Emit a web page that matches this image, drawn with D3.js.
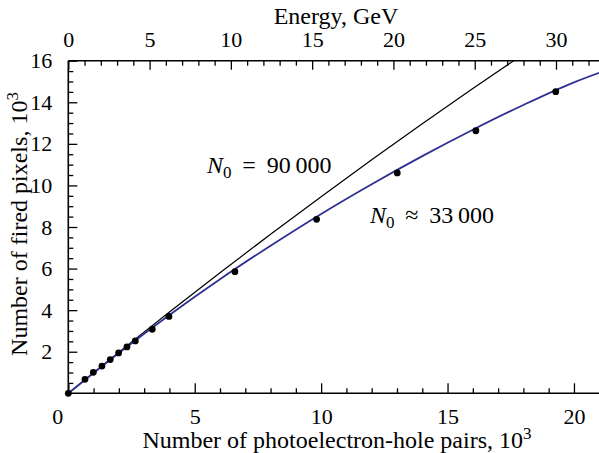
<!DOCTYPE html>
<html><head><meta charset="utf-8">
<script src="https://cdn.jsdelivr.net/npm/d3@7"></script>
<style>
body{margin:0;background:#fff;}
svg{display:block;}
svg text, svg tspan{font-family:"Liberation Serif" !important;}
</style></head>
<body><svg id="c" width="599" height="453"></svg>
<script>
// measured data points (10^3 photoelectron-hole pairs vs 10^3 fired pixels)
const pairs = [0, 0.66, 0.99, 1.33, 1.66, 1.99, 2.32, 2.65, 3.32, 3.98, 6.59, 9.82, 13.01, 16.12, 19.28];
const fired = [0, 0.67, 1.01, 1.31, 1.62, 1.94, 2.23, 2.52, 3.08, 3.70, 5.85, 8.37, 10.60, 12.63, 14.51];
// curves
const curveX = [0, 2, 4, 6, 8, 10, 12, 14, 16, 18, 20, 21];
const curve90 = [0, 1.98, 3.91, 5.80, 7.65, 9.46, 11.23, 12.97, 14.66, 16.31, 17.9, 18.7];
const curve33 = [0, 1.94, 3.77, 5.49, 7.10, 8.63, 10.06, 11.41, 12.68, 13.87, 14.96, 15.42];
const xMajor = [0, 5, 10, 15, 20];
const yMajor = [2, 4, 6, 8, 10, 12, 14, 16];
const eMajor = [0, 5, 10, 15, 20, 25, 30];

const FONT = "Liberation Serif";
const L = 68.3, R = 599, T = 60.7, B = 393.3;
const svg = d3.select("#c").attr("font-family", FONT);
const x = d3.scaleLinear().domain([0, 20.99]).range([L, R]);
const y = d3.scaleLinear().domain([0, 16]).range([B, T]);
const xe = d3.scaleLinear().domain([0, 32.645]).range([L, R]);

svg.append("defs").append("clipPath").attr("id","clip")
  .append("rect").attr("x",L).attr("y",T).attr("width",R-L).attr("height",B-T);

function styleAxis(g){
  g.attr("font-family", FONT).attr("font-size", 22);
  g.selectAll("path.domain").remove();
  g.selectAll("line").attr("stroke","#000").attr("stroke-width",1.3);
  g.selectAll("text").attr("fill","#000").attr("font-family", FONT).attr("font-size", 22);
}
// bottom axis
const xMinor = d3.range(0, 21, 1).filter(v => !xMajor.includes(v));
svg.append("g").attr("transform",`translate(0,${B})`)
  .call(d3.axisBottom(x).tickValues(xMinor).tickSize(-5).tickFormat(""))
  .call(styleAxis);
const gb = svg.append("g").attr("transform",`translate(0,${B})`)
  .call(d3.axisBottom(x).tickValues(xMajor).tickSize(-10).tickPadding(15).tickFormat(d3.format("d")))
  .call(styleAxis);
gb.selectAll(".tick").filter(d => d === 0).select("text").attr("x", -11);
// top axis (energy)
const eMinor = d3.range(0, 33, 1).filter(v => !eMajor.includes(v));
svg.append("g").attr("transform",`translate(0,${T})`)
  .call(d3.axisTop(xe).tickValues(eMinor).tickSize(-5).tickFormat(""))
  .call(styleAxis);
svg.append("g").attr("transform",`translate(0,${T})`)
  .call(d3.axisTop(xe).tickValues(eMajor).tickSize(-9).tickPadding(14).tickFormat(d3.format("d")))
  .call(styleAxis);
// left axis
const yMinor = d3.range(0.5, 16, 0.5).filter(v => !yMajor.includes(v));
svg.append("g").attr("transform",`translate(${L},0)`)
  .call(d3.axisLeft(y).tickValues(yMinor).tickSize(-5).tickFormat(""))
  .call(styleAxis);
svg.append("g").attr("transform",`translate(${L},0)`)
  .call(d3.axisLeft(y).tickValues(yMajor).tickSize(-9).tickPadding(16).tickFormat(d3.format("d")))
  .call(styleAxis);
// spines
svg.append("line").attr("x1",L).attr("x2",R).attr("y1",B).attr("y2",B).attr("stroke","#000").attr("stroke-width",1.6);
svg.append("line").attr("x1",L).attr("x2",R).attr("y1",T).attr("y2",T).attr("stroke","#000").attr("stroke-width",1.6);
svg.append("line").attr("x1",L).attr("x2",L).attr("y1",T).attr("y2",B).attr("stroke","#000").attr("stroke-width",1.6);

// curves
const line = d3.line().x(d => x(d[0])).y(d => y(d[1])).curve(d3.curveMonotoneX);
const plot = svg.append("g").attr("clip-path","url(#clip)");
plot.append("path").datum(curveX.map((v,i)=>[v,curve90[i]]))
  .attr("d",line).attr("fill","none").attr("stroke","#000").attr("stroke-width",1.2);
plot.append("path").datum(curveX.map((v,i)=>[v,curve33[i]]))
  .attr("d",line).attr("fill","none").attr("stroke","#2e3192").attr("stroke-width",1.8);
// points
svg.append("g").selectAll("circle").data(pairs.map((v,i)=>[v,fired[i]])).join("circle")
  .attr("cx",d=>x(d[0])).attr("cy",d=>y(d[1])).attr("r",3.4).attr("fill","#000");

function txt(sel){ return sel.attr("font-family", FONT).attr("fill","#000"); }
// titles
txt(svg.append("text")).attr("x",336).attr("y",24).attr("text-anchor","middle").attr("font-size",24).text("Energy, GeV");
const bt = txt(svg.append("text")).attr("x",337).attr("y",448).attr("text-anchor","middle").attr("font-size",24);
bt.append("tspan").text("Number of photoelectron-hole pairs, 10");
bt.append("tspan").attr("dy",-9).attr("font-size",17).text("3");
const lt = txt(svg.append("text")).attr("transform","translate(27,224) rotate(-90)").attr("text-anchor","middle").attr("font-size",24);
lt.append("tspan").text("Number of fired pixels, 10");
lt.append("tspan").attr("dy",-9).attr("font-size",17).text("3");

// annotations
function ann(xp, yp, rest){
  const t = txt(svg.append("text")).attr("x",xp).attr("y",yp).attr("font-size",24);
  t.append("tspan").attr("font-style","italic").text("N");
  t.append("tspan").attr("dy",5).attr("font-size",17).text("0");
  t.append("tspan").attr("dy",-5).text(rest);
}
ann(207, 173, "\u2009 = \u200990\u2009000");
ann(370, 223, "\u2009 \u2248 \u200933\u2009000");
</script></body></html>
